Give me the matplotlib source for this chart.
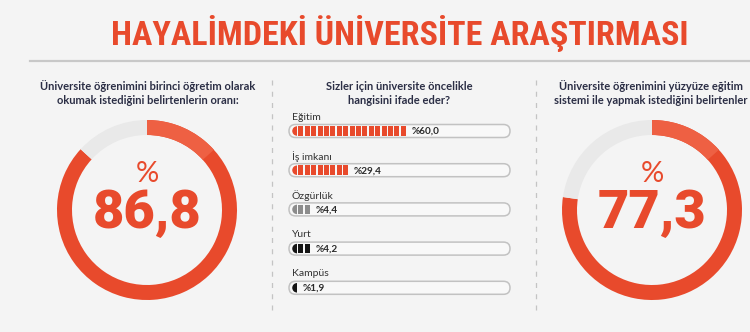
import matplotlib
matplotlib.use('Agg')
import matplotlib.pyplot as plt
from matplotlib.patches import Wedge, FancyBboxPatch, Rectangle
from matplotlib.lines import Line2D

W, H = 750, 332
BG = '#f4f4f4'
RED = '#e84a2c'
RED_LIGHT = '#ee6043'
RING_GRAY = '#e9e9e9'
NAVY = '#2b2e45'

# ---------------- data ----------------
title = 'HAYALİMDEKİ ÜNİVERSİTE ARAŞTIRMASI'

left_subtitle = ['Üniversite öğrenimini birinci öğretim olarak',
                 'okumak istediğini belirtenlerin oranı:']
left_value = 86.8

right_subtitle = ['Üniversite öğrenimini yüzyüze eğitim',
                  'sistemi ile yapmak istediğini belirtenler']
right_value = 77.3

mid_subtitle = ['Sizler için üniversite öncelikle', 'hangisini ifade eder?']
categories = ['Eğitim', 'İş imkanı', 'Özgürlük', 'Yurt', 'Kampüs']
values = [60.0, 29.4, 4.4, 4.2, 1.9]
segments = [18, 9, 3, 3, 1]
seg_colors = [RED, RED, '#8c8c8c', '#151515', '#151515']


def fmt(v):
    return f'{v:.1f}'.replace('.', ',')


fig = plt.figure(figsize=(W / 100, H / 100), dpi=100, facecolor=BG)


def px_axes(x0, y0, w, h):
    ax = fig.add_axes([x0 / W, 1 - (y0 + h) / H, w / W, h / H])
    ax.set_facecolor('none')
    ax.axis('off')
    return ax


def fig_xy(x, y):
    return x / W, 1 - y / H


# title and rule
fig.text(*fig_xy(400, 33), title, ha='center', va='center', fontsize=24.5,
         fontweight='black',
         family=['Roboto Condensed', 'Liberation Sans Narrow', 'Roboto', 'DejaVu Sans'],
         color=RED)
fig.add_artist(Line2D([30 / W, 1.0], [1 - 61 / H] * 2, transform=fig.transFigure,
                      color='#c8c8c8', lw=1.6))

# dashed separators
for xs in (272, 536):
    fig.add_artist(Line2D([xs / W] * 2, [1 - 80 / H, 1 - 310 / H], transform=fig.transFigure,
                          color='#c4c4c4', lw=0.9, linestyle=(0, (4, 5))))

SUB_KW = dict(ha='center', va='center', fontsize=8.0, fontweight='bold',
              family=['Lato', 'DejaVu Sans'], color=NAVY)


def subtitle(cx, lines):
    for k, line in enumerate(lines):
        fig.text(*fig_xy(cx, 86 + 14 * k), line, **SUB_KW)


subtitle(148, left_subtitle)
subtitle(651, right_subtitle)
subtitle(399, mid_subtitle)


def donut(cx, cy, R, ring, value):
    ax = px_axes(cx - R, cy - R, 2 * R, 2 * R)
    ax.pie([value, 100 - value], radius=1, startangle=90, counterclock=False,
           colors=[RED, RING_GRAY], wedgeprops=dict(width=ring / R, linewidth=0))
    ax.add_patch(Wedge((0, 0), 1, 90 - 48, 90, width=ring / R, color=RED_LIGHT, lw=0))
    ax.set_xlim(-1, 1)
    ax.set_ylim(-1, 1)
    ax.set_aspect('auto')
    ax.axis('off')
    ax.text(0, 0.40, '%', ha='center', va='center', fontsize=21,
            family=['Lato', 'DejaVu Sans'], fontweight='normal', color=RED)
    ax.text(0, -0.04, fmt(value), ha='center', va='center', fontsize=39,
            family=['Roboto', 'DejaVu Sans'], fontweight='black', color=RED)


donut(147, 210, 90, 15, left_value)
donut(652, 210, 90, 15, right_value)

# middle bars (axes in pixel units)
bx0, by0, bw, bh = 280, 100, 240, 210
ax = px_axes(bx0, by0, bw, bh)
ax.set_xlim(0, bw)
ax.set_ylim(bh, 0)

row0, pitch_row = 31, 39.2
frame_l, frame_r, frame_h = 9, 230, 13
blk_x0, blk_pitch, blk_w, blk_h = 12, 6.4, 5, 9.5

for i, (cat, val, nseg, col) in enumerate(zip(categories, values, segments, seg_colors)):
    yc = row0 + pitch_row * i
    ax.add_patch(FancyBboxPatch((frame_l, yc - frame_h / 2), frame_r - frame_l, frame_h,
                                boxstyle=f'round,pad=0,rounding_size={frame_h / 2}',
                                facecolor='#f8f8f8', edgecolor='#c2c2c2', lw=1.1))
    for k in range(nseg):
        x = blk_x0 + k * blk_pitch
        if k == 0:
            ax.add_patch(Wedge((x + blk_w, yc), blk_h / 2, 90, 270, color=col, lw=0))
        else:
            ax.add_patch(Rectangle((x, yc - blk_h / 2), blk_w, blk_h, color=col, lw=0))
    ax.text(blk_x0 + nseg * blk_pitch + 4, yc + 0.5, '%' + fmt(val), ha='left', va='center',
            fontsize=7.2, fontweight='bold', family=['Lato', 'DejaVu Sans'], color='#2a2a2a')
    ax.text(blk_x0, yc - 14, cat, ha='left', va='center', fontsize=7.5,
            family=['Lato', 'DejaVu Sans'], color='#333333')

fig.savefig('out.png', dpi=100, facecolor=BG)
